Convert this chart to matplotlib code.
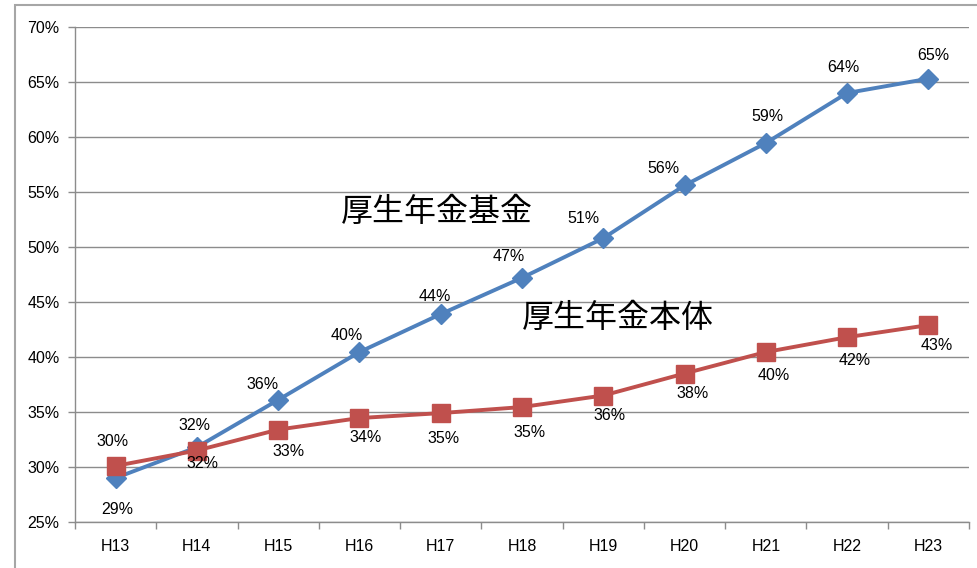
import matplotlib
matplotlib.use("Agg")
import matplotlib.pyplot as plt
from matplotlib.patches import Rectangle
from matplotlib.ticker import FixedLocator

# data (values in %)
years = ["H13", "H14", "H15", "H16", "H17", "H18", "H19", "H20", "H21", "H22", "H23"]
kikin = [29.0, 31.8, 36.1, 40.45, 43.9, 47.2, 50.8, 55.6, 59.45, 64.0, 65.3]
hontai = [30.1, 31.5, 33.4, 34.45, 34.9, 35.45, 36.5, 38.5, 40.45, 41.8, 42.9]
kikin_name = "厚生年金基金"
hontai_name = "厚生年金本体"
yticks = [25, 30, 35, 40, 45, 50, 55, 60, 65, 70]

# label offsets in pixels (dx, dy)
kikin_off = [(2, -32), (-2, 22), (-16, 15), (-13, 17), (-6, 18), (-13, 21),
             (-20, 20), (-21, 17), (2, 27), (-4, 25), (5, 23)]
hontai_off = [(-3, 24), (6, -13), (10, -22), (6, -19), (3, -25), (8, -25),
              (6, -20), (8, -20), (8, -23), (8, -23), (8, -20)]

blue = "#4F81BD"
red = "#C0504D"
grey = "#8C8C8C"
txt_font = ["Liberation Sans", "DejaVu Sans"]
jp_font = ["Noto Sans CJK JP", "DejaVu Sans"]

fig = plt.figure(figsize=(9.78, 5.68), dpi=100)
W, H = 978, 568
ax = fig.add_axes([75 / W, 1 - 522 / H, (969 - 75) / W, (522 - 27) / H])

# chart frame
fig.patches.append(Rectangle((15 / W, -0.1), 1.2, 1 - 5 / H + 0.1, transform=fig.transFigure,
                             fill=False, edgecolor="#A6A6A6", linewidth=1.5, zorder=0))

x = list(range(len(years)))
ax.plot(x, kikin, color=blue, linewidth=2.8, marker="D", markersize=10.5, zorder=3)
ax.plot(x, hontai, color=red, linewidth=2.8, marker="s", markersize=13, zorder=4)

for i, v in enumerate(kikin):
    ax.annotate("%d%%" % round(v), (i, v), xytext=kikin_off[i], textcoords="offset pixels",
                ha="center", va="center", fontsize=11.5, family=txt_font, color="black", zorder=5)
for i, v in enumerate(hontai):
    ax.annotate("%d%%" % round(v), (i, v), xytext=hontai_off[i], textcoords="offset pixels",
                ha="center", va="center", fontsize=11.5, family=txt_font, color="black", zorder=5)

ax.text(437 / W, 1 - 212 / H, kikin_name, transform=fig.transFigure, ha="center", va="center",
        fontsize=23, family=jp_font)
ax.text(618 / W, 1 - 318 / H, hontai_name, transform=fig.transFigure, ha="center", va="center",
        fontsize=23, family=jp_font)

ax.set_xlim(-0.5, len(years) - 0.5)
ax.set_ylim(25, 70)
ax.set_yticks(yticks)
ax.set_yticklabels(["%d%%" % t for t in yticks], family=txt_font, fontsize=11.5)
ax.set_xticks(x)
ax.set_xticklabels(years, family=txt_font, fontsize=11.5)
ax.xaxis.set_minor_locator(FixedLocator([i - 0.5 for i in range(len(years) + 1)]))
ax.tick_params(axis="x", which="major", length=0, pad=12)
ax.tick_params(axis="x", which="minor", length=5, color=grey, width=1)
ax.tick_params(axis="y", length=5, color=grey, width=1, pad=6)
ax.grid(axis="y", color=grey, linewidth=1)
ax.set_axisbelow(True)
for s in ["top", "right"]:
    ax.spines[s].set_visible(False)
for s in ["left", "bottom"]:
    ax.spines[s].set_color(grey)
    ax.spines[s].set_linewidth(1)

fig.savefig("out.png", dpi=100)
